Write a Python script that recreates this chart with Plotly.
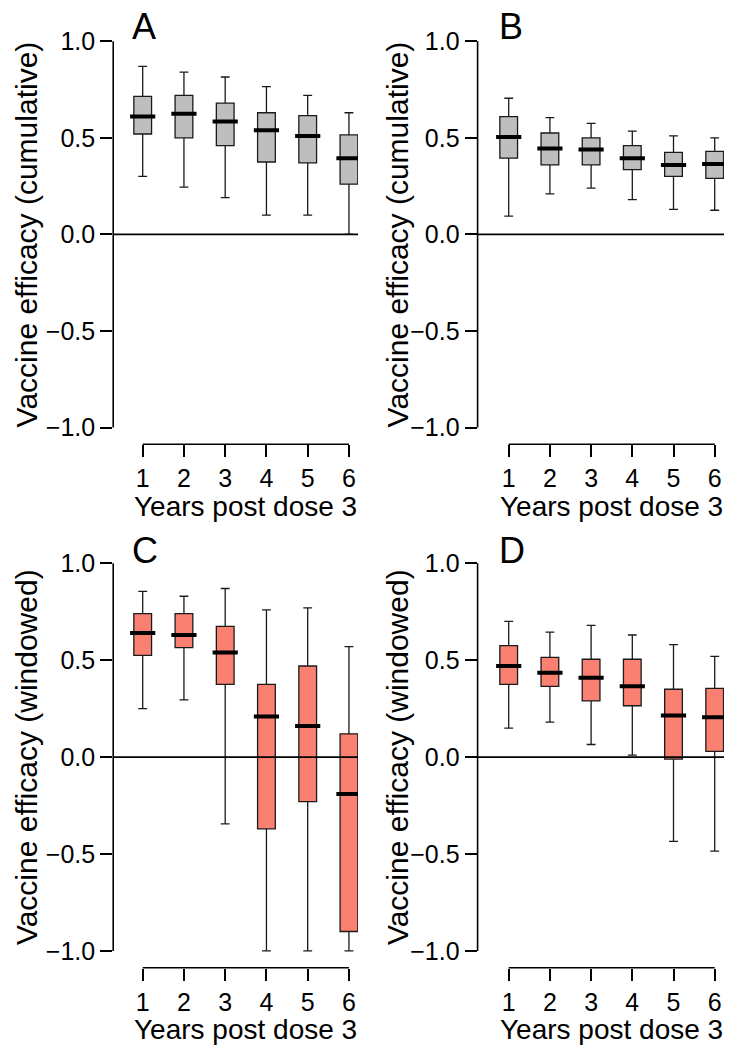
import plotly.graph_objects as go

W, H = 736, 1049

years = [1, 2, 3, 4, 5, 6]
y_ticks = [-1.0, -0.5, 0.0, 0.5, 1.0]

# A: cumulative, scenario 1
a_low = [0.30, 0.245, 0.19, 0.10, 0.10, 0.00]
a_q1 = [0.52, 0.50, 0.46, 0.375, 0.37, 0.26]
a_med = [0.61, 0.625, 0.585, 0.54, 0.51, 0.395]
a_q3 = [0.715, 0.72, 0.68, 0.63, 0.615, 0.515]
a_high = [0.87, 0.84, 0.815, 0.765, 0.72, 0.63]

# B: cumulative, scenario 2
b_low = [0.095, 0.21, 0.24, 0.18, 0.13, 0.125]
b_q1 = [0.395, 0.36, 0.36, 0.335, 0.30, 0.29]
b_med = [0.505, 0.445, 0.44, 0.395, 0.36, 0.365]
b_q3 = [0.61, 0.525, 0.50, 0.46, 0.425, 0.43]
b_high = [0.705, 0.605, 0.575, 0.535, 0.51, 0.50]

# C: windowed, scenario 1
c_low = [0.25, 0.295, -0.345, -1.0, -1.0, -1.0]
c_q1 = [0.525, 0.565, 0.375, -0.37, -0.23, -0.90]
c_med = [0.64, 0.63, 0.54, 0.21, 0.16, -0.19]
c_q3 = [0.74, 0.74, 0.675, 0.375, 0.47, 0.12]
c_high = [0.855, 0.83, 0.87, 0.76, 0.77, 0.57]

# D: windowed, scenario 2
d_low = [0.15, 0.18, 0.065, 0.01, -0.435, -0.485]
d_q1 = [0.375, 0.365, 0.29, 0.265, -0.01, 0.03]
d_med = [0.47, 0.435, 0.41, 0.365, 0.215, 0.205]
d_q3 = [0.575, 0.515, 0.505, 0.505, 0.35, 0.355]
d_high = [0.70, 0.645, 0.68, 0.63, 0.58, 0.52]

panels = [
    dict(letter='A', stats=(a_low, a_q1, a_med, a_q3, a_high), fill='#BEBEBE',
         ylab='Vaccine efficacy (cumulative)', col=0, row=0),
    dict(letter='B', stats=(b_low, b_q1, b_med, b_q3, b_high), fill='#BEBEBE',
         ylab='Vaccine efficacy (cumulative)', col=1, row=0),
    dict(letter='C', stats=(c_low, c_q1, c_med, c_q3, c_high), fill='#FA8072',
         ylab='Vaccine efficacy (windowed)', col=0, row=1),
    dict(letter='D', stats=(d_low, d_q1, d_med, d_q3, d_high), fill='#FA8072',
         ylab='Vaccine efficacy (windowed)', col=1, row=1),
]

# pixel geometry of the 2x2 grid
cols = [
    dict(c1=142.7, u=41.25, xlo=0.285, xhi=6.22, letter_px=130, ylab_px=26),
    dict(c1=508.7, u=41.2, xlo=0.245, xhi=6.225, letter_px=497, ylab_px=397),
]
rows = [
    dict(y1=41.3, u=193.1, letter_py=27, xlab_py=507),
    dict(y1=563.3, u=193.8, letter_py=550, xlab_py=1029),
]
y_range = [-1.087, 1.087]

FONT = 'Liberation Sans, Arial, sans-serif'


def px_x(p):
    return p / W


def px_y(p):
    return 1 - p / H


fig = go.Figure()
layout = dict(
    width=W, height=H,
    margin=dict(l=0, r=0, t=0, b=0),
    paper_bgcolor='white', plot_bgcolor='white',
    showlegend=False,
    font=dict(family=FONT, color='black'),
)
shapes = []
annotations = []

for i, p in enumerate(panels):
    n = '' if i == 0 else str(i + 1)
    xa, ya = 'x' + n, 'y' + n
    c = cols[p['col']]
    r = rows[p['row']]
    low, q1, med, q3, high = p['stats']

    fig.add_trace(go.Box(
        x=years, q1=q1, median=med, q3=q3, lowerfence=low, upperfence=high,
        xaxis=xa, yaxis=ya, width=0.43, whiskerwidth=0.5,
        fillcolor=p['fill'], line=dict(color='#1a1a1a', width=1.3),
        boxpoints=False, hoverinfo='skip',
    ))
    # thick R-style median bars
    fig.add_trace(go.Scatter(
        x=years, y=med, mode='markers', xaxis=xa, yaxis=ya,
        marker=dict(symbol='line-ew', size=18, line=dict(color='black', width=4)),
        hoverinfo='skip',
    ))

    left = c['c1'] + (c['xlo'] - 1) * c['u']
    right = c['c1'] + (c['xhi'] - 1) * c['u']
    top = r['y1'] + (1 - y_range[1]) * r['u']
    bottom = r['y1'] + (1 - y_range[0]) * r['u']

    layout['xaxis' + n] = dict(
        domain=[px_x(left), px_x(right)], range=[c['xlo'], c['xhi']],
        anchor=ya, tickvals=years, ticks='outside', ticklen=12, tickwidth=1.5,
        tickcolor='black', tickfont=dict(size=25), showgrid=False,
        zeroline=False, showline=False,
    )
    layout['yaxis' + n] = dict(
        domain=[px_y(bottom), px_y(top)], range=y_range,
        anchor=xa, tickvals=y_ticks, tickformat='.1f', ticks='outside',
        ticklen=12, tickwidth=1.5, tickcolor='black', tickfont=dict(size=25),
        showgrid=False, zeroline=False, showline=False,
    )

    line = dict(color='black', width=1.6)
    shapes += [
        dict(type='line', xref=xa + ' domain', x0=0, x1=0, yref=ya, y0=-1, y1=1, line=line),
        dict(type='line', xref=xa, x0=1, x1=6, yref=ya + ' domain', y0=0, y1=0, line=line),
        dict(type='line', xref=xa + ' domain', x0=0, x1=1, yref=ya, y0=0, y1=0,
             line=dict(color='black', width=1.8)),
    ]

    annotations += [
        dict(text=p['letter'], xref='paper', yref='paper',
             x=px_x(c['letter_px']), y=px_y(r['letter_py']),
             xanchor='left', yanchor='middle', showarrow=False,
             font=dict(size=36)),
        dict(text='Years post dose 3', xref=xa, yref='paper',
             x=3.5, y=px_y(r['xlab_py']), xanchor='center', yanchor='middle',
             showarrow=False, font=dict(size=28)),
        dict(text=p['ylab'], xref='paper', yref=ya,
             x=px_x(c['ylab_px']), y=0, xanchor='center', yanchor='middle',
             textangle=-90, showarrow=False, font=dict(size=30)),
    ]

layout['shapes'] = shapes
layout['annotations'] = annotations
fig.update_layout(**layout)

# drop the browser's default body margin so the figure sits at the page corner
fig.write_html("out.html", config={'displayModeBar': False},
               post_script="document.body.style.margin='0';")
